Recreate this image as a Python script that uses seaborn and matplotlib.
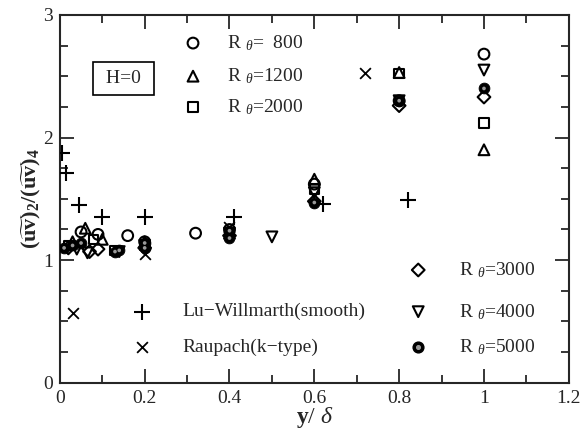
import numpy as np
import pandas as pd
import seaborn as sns
import matplotlib.pyplot as plt
from matplotlib.ticker import MultipleLocator

# data
x800 = [0.05, 0.09, 0.16, 0.2, 0.32, 0.4, 0.6, 0.8, 1.0]
y800 = [1.23, 1.21, 1.20, 1.15, 1.22, 1.25, 1.62, 2.30, 2.68]
x1200 = [0.03, 0.06, 0.1, 0.2, 0.4, 0.6, 0.8, 1.0]
y1200 = [1.15, 1.26, 1.17, 1.15, 1.22, 1.66, 2.53, 1.90]
x2000 = [0.02, 0.08, 0.13, 0.2, 0.4, 0.6, 0.8, 1.0]
y2000 = [1.12, 1.17, 1.08, 1.12, 1.22, 1.58, 2.52, 2.12]
x3000 = [0.02, 0.07, 0.09, 0.2, 0.4, 0.6, 0.8, 1.0]
y3000 = [1.10, 1.07, 1.09, 1.10, 1.20, 1.48, 2.26, 2.33]
x4000 = [0.04, 0.065, 0.14, 0.2, 0.4, 0.5, 0.6, 0.8, 1.0]
y4000 = [1.09, 1.06, 1.07, 1.12, 1.22, 1.19, 1.55, 2.30, 2.55]
x5000 = [0.01, 0.03, 0.05, 0.13, 0.14, 0.2, 0.2, 0.4, 0.4, 0.6, 0.8, 1.0]
y5000 = [1.10, 1.12, 1.14, 1.07, 1.08, 1.10, 1.14, 1.18, 1.24, 1.47, 2.30, 2.40]
x_lw = [0.005, 0.015, 0.045, 0.1, 0.2, 0.41, 0.62, 0.82]
y_lw = [1.87, 1.71, 1.45, 1.35, 1.35, 1.35, 1.46, 1.49]
x_rp = [0.03, 0.2, 0.4, 0.72]
y_rp = [0.57, 1.05, 1.27, 2.53]

sns.set_style('ticks')
plt.rcParams['font.family'] = ['Liberation Serif', 'DejaVu Serif']
plt.rcParams['mathtext.fontset'] = 'custom'
plt.rcParams['mathtext.rm'] = 'Liberation Serif'
plt.rcParams['mathtext.it'] = 'Liberation Serif:italic'
plt.rcParams['mathtext.bf'] = 'Liberation Serif:bold'

fig = plt.figure(figsize=(5.81, 4.37), dpi=100)
ax = fig.add_axes([0.103, 0.124, 0.876, 0.842])

open_kw = dict(facecolor='none', edgecolor='black', linewidth=1.5, s=60, zorder=3)
sns.scatterplot(x=x800, y=y800, marker='o', ax=ax, **open_kw)
sns.scatterplot(x=x1200, y=y1200, marker='^', ax=ax, **open_kw)
sns.scatterplot(x=x2000, y=y2000, marker='s', ax=ax, **dict(open_kw, s=46))
sns.scatterplot(x=x3000, y=y3000, marker='D', ax=ax, **dict(open_kw, s=42))
sns.scatterplot(x=x4000, y=y4000, marker='v', ax=ax, **open_kw)
sns.scatterplot(x=x5000, y=y5000, marker='o', ax=ax, color='black', edgecolor='black', s=60, zorder=4)
sns.scatterplot(x=x5000, y=y5000, marker='o', ax=ax, color='0.6', edgecolor='none', s=7, zorder=5)
sns.scatterplot(x=x_lw, y=y_lw, marker='+', ax=ax, color='black', linewidth=1.5, s=130, zorder=3)
sns.scatterplot(x=x_rp, y=y_rp, marker='x', ax=ax, color='black', linewidth=1.3, s=60, zorder=3)

# in-plot legend
fs = 14
rt = 'R $_\\theta$='
leg_l = [(0.314, 2.77, 'o', rt + '  800'),
         (0.314, 2.50, '^', rt + '1200'),
         (0.314, 2.25, 's', rt + '2000')]
for lx, ly, m, t in leg_l:
    ax.scatter([lx], [ly], marker=m, facecolor='none', edgecolor='black', linewidth=1.5,
               s=46 if m == 's' else 60)
    ax.text(lx + 0.08, ly, t, fontsize=fs, va='center', ha='left')
leg_r = [(0.845, 0.92, 'D', rt + '3000'),
         (0.845, 0.58, 'v', rt + '4000')]
for lx, ly, m, t in leg_r:
    ax.scatter([lx], [ly], marker=m, facecolor='none', edgecolor='black', linewidth=1.5,
               s=42 if m == 'D' else 60)
    ax.text(lx + 0.095, ly, t, fontsize=fs, va='center', ha='left')
ax.scatter([0.845], [0.29], marker='o', color='black', s=60)
ax.scatter([0.845], [0.29], marker='o', color='0.6', s=7, zorder=5)
ax.text(0.94, 0.29, rt + '5000', fontsize=fs, va='center', ha='left')

ax.scatter([0.193], [0.58], marker='+', color='black', linewidth=1.5, s=130)
ax.text(0.288, 0.58, 'Lu\u2212Willmarth(smooth)', fontsize=fs, va='center', ha='left')
ax.scatter([0.193], [0.29], marker='x', color='black', linewidth=1.3, s=60)
ax.text(0.288, 0.29, 'Raupach(k\u2212type)', fontsize=fs, va='center', ha='left')

ax.text(0.15, 2.48, ' H=0 ', fontsize=fs, va='center', ha='center',
        bbox=dict(boxstyle='square,pad=0.4', facecolor='white', edgecolor='black', linewidth=1.2))

ax.set_xlim(0, 1.2)
ax.set_ylim(0, 3)
ax.xaxis.set_major_locator(MultipleLocator(0.2))
ax.xaxis.set_minor_locator(MultipleLocator(0.1))
ax.yaxis.set_major_locator(MultipleLocator(1))
ax.yaxis.set_minor_locator(MultipleLocator(0.25))
ax.set_xticks([0, 0.2, 0.4, 0.6, 0.8, 1.0, 1.2])
ax.set_xticklabels(['0', '0.2', '0.4', '0.6', '0.8', '1', '1.2'])
ax.set_yticks([0, 1, 2, 3])
ax.set_yticklabels(['0', '1', '2', '3'])
ax.tick_params(which='both', direction='in', top=True, right=True, labelsize=fs, width=1.3)
ax.tick_params(which='major', length=10, pad=5)
ax.tick_params(which='minor', length=6)
for sp in ax.spines.values():
    sp.set_linewidth(1.5)
    sp.set_visible(True)

ax.set_xlabel('$\\mathbf{y}$/ $\\delta$', fontsize=17, labelpad=-1)
ax.set_ylabel('$\\mathbf{(\\widetilde{uv})_2/(\\widetilde{uv})_4}$', fontsize=16, labelpad=0)

fig.savefig('out.png', dpi=100)
